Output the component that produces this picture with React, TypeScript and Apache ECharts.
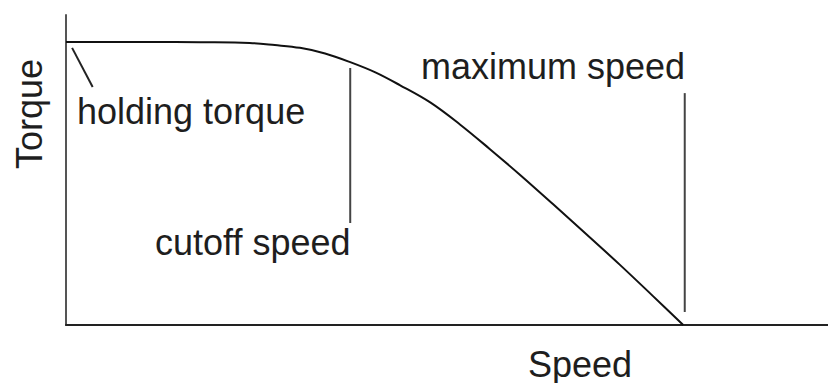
import React, { useEffect, useRef } from "react";
import * as echarts from "echarts";

// Torque–speed curve (speed 0..100, torque 0..100, arbitrary units)
const speedValues = [0, 11.0, 17.6, 24.1, 27.4, 30.7, 34.0, 37.3, 40.6, 43.8, 47.8, 51.7, 55.6, 59.6, 63.9, 68.4, 72.7, 77.0, 81.0];
const torqueValues = [91.3, 91.3, 91.2, 91.0, 90.3, 89.4, 87.6, 84.8, 81.5, 77.4, 71.8, 64.7, 56.8, 48.4, 39.0, 29.0, 19.4, 9.4, 0];

// Annotation pointer lines [speed, torque]
const holdingPointer = [[0.8, 89.4], [3.5, 76.8]];
const cutoffPointer = [[37.3, 82.9], [37.3, 32.9]];
const maxSpeedPointer = [[81.2, 74.8], [81.2, 4.2]];

const labels = {
  holding: "holding torque",
  cutoff: "cutoff speed",
  maxSpeed: "maximum speed",
  xName: "Speed",
  yName: "Torque",
};

const FONT = '36px "Liberation Sans", Arial, sans-serif';
const TEXT_COLOR = "#1e1e1e";

export default function App() {
  const ref = useRef<HTMLDivElement>(null);

  useEffect(() => {
    if (!ref.current) return;
    const chart = echarts.init(ref.current, null, { renderer: "svg" });
    const curve = speedValues.map((s, i) => [s, torqueValues[i]]);
    const pointerStyle = { color: "#444", width: 2 };
    chart.setOption({
      animation: false,
      backgroundColor: "#ffffff",
      grid: { left: 66, right: 0, top: 15, bottom: 58, containLabel: false },
      xAxis: {
        type: "value",
        min: 0,
        max: 100,
        axisLine: { show: true, lineStyle: { color: "#222", width: 2 } },
        axisTick: { show: false },
        axisLabel: { show: false },
        splitLine: { show: false },
      },
      yAxis: {
        type: "value",
        min: 0,
        max: 100,
        axisLine: { show: true, onZero: false, lineStyle: { color: "#555", width: 2 } },
        axisTick: { show: false },
        axisLabel: { show: false },
        splitLine: { show: false },
      },
      series: [
        {
          type: "line",
          data: curve,
          smooth: 0.35,
          symbol: "none",
          lineStyle: { color: "#111", width: 2 },
        },
        { type: "line", data: holdingPointer, symbol: "none", lineStyle: { color: "#222", width: 2 } },
        { type: "line", data: cutoffPointer, symbol: "none", lineStyle: pointerStyle },
        { type: "line", data: maxSpeedPointer, symbol: "none", lineStyle: pointerStyle },
      ],
      graphic: [
        {
          type: "text",
          x: 77,
          y: 111,
          style: { text: labels.holding, font: FONT, fill: TEXT_COLOR, textAlign: "left", textVerticalAlign: "middle" },
        },
        {
          type: "text",
          x: 421,
          y: 66,
          style: { text: labels.maxSpeed, font: FONT, fill: TEXT_COLOR, textAlign: "left", textVerticalAlign: "middle" },
        },
        {
          type: "text",
          x: 155,
          y: 242,
          style: { text: labels.cutoff, font: FONT, fill: TEXT_COLOR, textAlign: "left", textVerticalAlign: "middle" },
        },
        {
          type: "text",
          x: 580,
          y: 364,
          style: { text: labels.xName, font: FONT, fill: TEXT_COLOR, textAlign: "center", textVerticalAlign: "middle" },
        },
        {
          type: "text",
          x: 29,
          y: 114,
          rotation: Math.PI / 2,
          style: { text: labels.yName, font: FONT, fill: TEXT_COLOR, textAlign: "center", textVerticalAlign: "middle" },
        },
      ],
    });
    return () => chart.dispose();
  }, []);

  return (
    <div
      ref={ref}
      style={{ position: "absolute", left: 0, top: 0, width: 828, height: 383 }}
    />
  );
}
